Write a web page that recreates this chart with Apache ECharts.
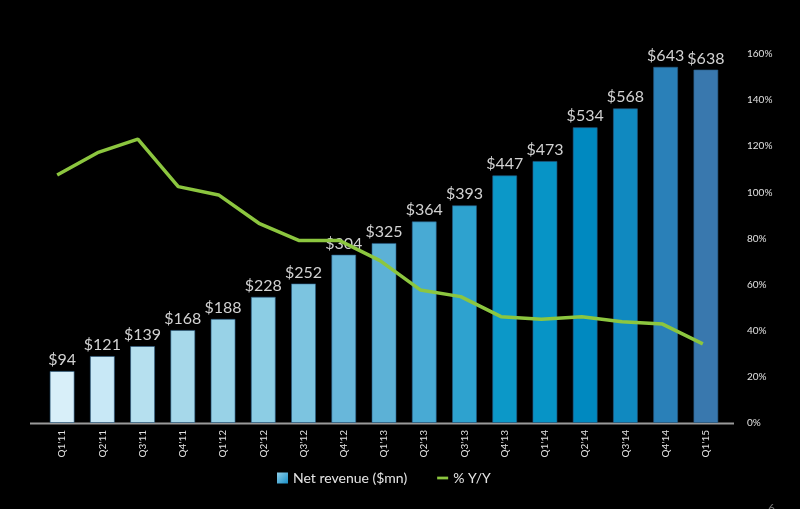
<!DOCTYPE html>
<html>
<head>
<meta charset="utf-8">
<script src="https://cdn.jsdelivr.net/npm/echarts@6/dist/echarts.min.js"></script>
<style>
html,body{margin:0;padding:0;background:#000;}
#chart{width:800px;height:509px;}
</style>
</head>
<body>
<div id="chart"></div>
<script>
var categories = ["Q1'11","Q2'11","Q3'11","Q4'11","Q1'12","Q2'12","Q3'12","Q4'12","Q1'13","Q2'13","Q3'13","Q4'13","Q1'14","Q2'14","Q3'14","Q4'14","Q1'15"];
var revenue = [94,121,139,168,188,228,252,304,325,364,393,447,473,534,568,643,638];
var yoy = [107.5,117.2,123.1,102.5,98.9,86.6,79.1,79.1,70.4,57.7,54.8,46.1,45.0,46.1,43.9,42.9,34.3];
var barColors = ['#d8eff9','#c8e8f6','#b6e0ef','#a6d8ea','#98d2e7','#8ccde4','#7cc4e0','#68b7da','#5cb1d6','#48aad4','#2ea2cf','#0c98c8','#0794c6','#0089c0','#1089c0','#2a80b8','#3978ae'];
var pctTicks = [0,20,40,60,80,100,120,140,160];

var chart = echarts.init(document.getElementById('chart'));
var font = 'Lato, "Open Sans", sans-serif';
chart.setOption({
  backgroundColor: '#000',
  animation: false,
  textStyle: {fontFamily: font},
  grid: [
    {left: 42, right: 74, top: 54, bottom: 86},
    {left: 37, right: 77, top: 54, bottom: 86}
  ],
  legend: {
    top: 466, left: 272, itemGap: 30, itemWidth: 11, itemHeight: 11,
    textStyle: {color: '#e6e6e6', fontSize: 14, fontFamily: font},
    data: [
      {name: 'Net revenue ($mn)', icon: 'rect'},
      {name: '% Y/Y', icon: 'path://M0,4L12,4L12,7L0,7Z'}
    ]
  },
  xAxis: [
    {type: 'category', data: categories, gridIndex: 0,
     axisLine: {show: false}, axisTick: {show: false},
     axisLabel: {rotate: 90, color: '#e0e0e0', fontSize: 10, margin: 7, interval: 0}},
    {type: 'category', data: categories, gridIndex: 1, show: false}
  ],
  yAxis: [
    {type: 'value', gridIndex: 0, min: 0, max: 666, show: false, splitLine: {show: false}},
    {type: 'value', gridIndex: 0, min: 0, max: 160, interval: 20, position: 'right',
     axisLine: {show: false}, axisTick: {show: false}, splitLine: {show: false},
     axisLabel: {formatter: function(v){return pctTicks.indexOf(v) >= 0 ? v + '%' : '';}, color: '#e0e0e0', fontSize: 10, margin: 21}},
    {type: 'value', gridIndex: 1, min: 0, max: 160, show: false, splitLine: {show: false}}
  ],
  graphic: [
    {type: 'line', shape: {x1: 30, y1: 423.5, x2: 734, y2: 423.5}, style: {stroke: '#9a9a9a', lineWidth: 2}, z: 1},
    {type: 'text', left: 768, top: 502, style: {text: '6', fill: '#777', fontSize: 12, fontFamily: font}}
  ],
  series: [
    {
      name: 'Net revenue ($mn)', type: 'bar', xAxisIndex: 0, yAxisIndex: 0, barWidth: 25, z: 2,
      itemStyle: {color: new echarts.graphic.LinearGradient(0,0,1,1,[{offset:0,color:'#8fd0ea'},{offset:1,color:'#1a8fc6'}])},
      data: revenue.map(function(v, i){
        return {value: v, itemStyle: {color: barColors[i], borderColor: 'rgba(40,90,130,0.6)', borderWidth: 1}};
      }),
      label: {show: true, position: 'top', distance: 3, color: '#d2d2d2', fontSize: 16, fontFamily: font,
              formatter: function(p){return '$' + p.value;}}
    },
    {
      name: '% Y/Y', type: 'line', xAxisIndex: 1, yAxisIndex: 2, data: yoy, symbol: 'none', z: 5,
      lineStyle: {color: '#8cc63f', width: 3.5}, itemStyle: {color: '#8cc63f'}
    }
  ]
});
</script>
</body>
</html>
